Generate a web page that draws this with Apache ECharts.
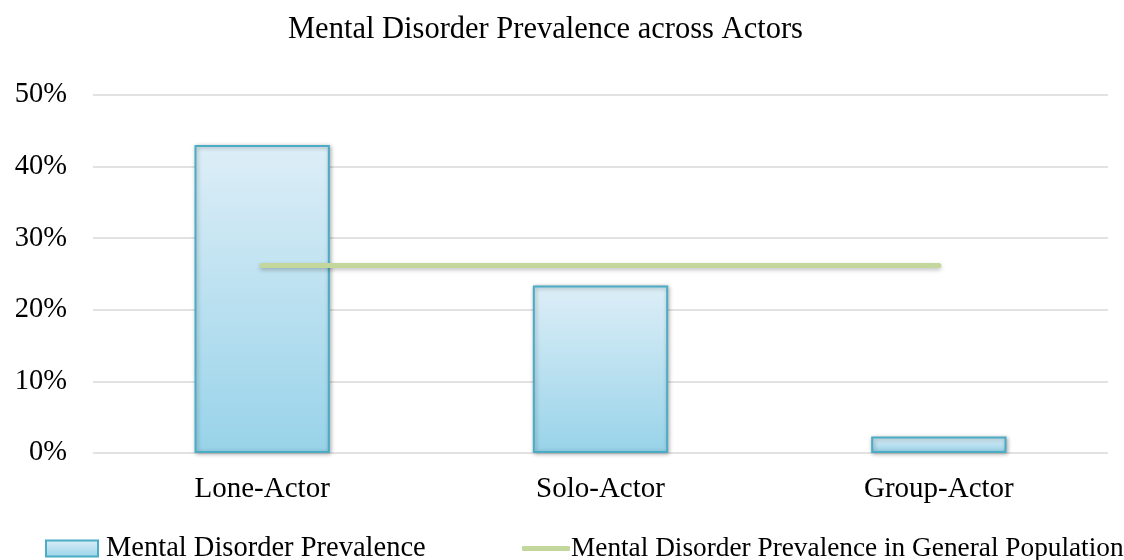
<!DOCTYPE html>
<html>
<head>
<meta charset="utf-8">
<script src="https://cdn.jsdelivr.net/npm/echarts@6/dist/echarts.min.js"></script>
<style>
  html, body { margin: 0; padding: 0; background: #ffffff; }
  #chart { width: 1124px; height: 560px; }
</style>
</head>
<body>
<div id="chart"></div>
<script>
// Actor groups along the x axis
const categories = ['Lone-Actor', 'Solo-Actor', 'Group-Actor'];
// Share of each actor group with a diagnosed mental disorder (%)
const prevalence = [43.0, 23.4, 2.3];
// Reference rate in the general population (%)
const generalPopulation = [26.2, 26.2, 26.2];
// Value axis range and step (%)
const yMin = 0, yMax = 50, yStep = 10;

const serif = '"Liberation Serif", "Times New Roman", Times, serif';
const barName = 'Mental Disorder Prevalence';
const lineName = 'Mental Disorder Prevalence in General Population';
const green = '#c3d69b';

const chart = echarts.init(document.getElementById('chart'), null, { renderer: 'canvas' });

chart.setOption({
  backgroundColor: '#ffffff',
  animation: false,
  title: {
    text: 'Mental Disorder Prevalence across Actors',
    left: 288,
    top: 14,
    padding: 0,
    textStyle: { fontFamily: serif, fontSize: 30.5, fontWeight: 'normal', color: '#000000' }
  },
  legend: [
    {
      data: [barName],
      left: 45,
      top: 534,
      padding: 0,
      itemWidth: 52,
      itemHeight: 16,
      icon: 'rect',
      textStyle: { fontFamily: serif, fontSize: 28.5, color: '#000000', padding: [0, 0, 0, 3] }
    },
    {
      data: [{ name: lineName, icon: 'roundRect' }],
      left: 522,
      top: 535,
      padding: 0,
      itemWidth: 48,
      itemHeight: 5,
      itemStyle: { color: green, borderWidth: 0 },
      textStyle: { fontFamily: serif, fontSize: 27.3, color: '#000000', padding: [0, 0, 0, -4] }
    }
  ],
  grid: { left: 93, right: 16, top: 95, bottom: 107, containLabel: false },
  xAxis: {
    type: 'category',
    data: categories,
    boundaryGap: true,
    axisLine: { show: false },
    axisTick: { show: false },
    axisLabel: { fontFamily: serif, fontSize: 29, color: '#000000', margin: 22 }
  },
  yAxis: {
    type: 'value',
    min: yMin,
    max: yMax,
    interval: yStep,
    axisLine: { show: false },
    axisTick: { show: false },
    axisLabel: {
      fontFamily: serif, fontSize: 28.5, color: '#000000', margin: 26,
      formatter: '{value}%'
    },
    splitLine: { lineStyle: { color: '#d9d9d9', width: 1.5 } }
  },
  series: [
    {
      name: barName,
      type: 'bar',
      data: prevalence,
      barWidth: '40%',
      itemStyle: {
        color: new echarts.graphic.LinearGradient(0, 0, 0, 1, [
          { offset: 0, color: '#ddeef7' },
          { offset: 1, color: '#98d3e9' }
        ]),
        borderColor: '#4bacc6',
        borderWidth: 2,
        shadowColor: 'rgba(0,0,0,0.3)',
        shadowBlur: 4,
        shadowOffsetX: 1,
        shadowOffsetY: 1
      },
      z: 2
    },
    {
      name: lineName,
      type: 'line',
      data: generalPopulation,
      symbol: 'none',
      showSymbol: false,
      lineStyle: {
        color: green,
        width: 5,
        cap: 'round',
        shadowColor: 'rgba(0,0,0,0.25)',
        shadowBlur: 4,
        shadowOffsetY: 2
      },
      itemStyle: { color: green },
      z: 3
    }
  ]
});
</script>
</body>
</html>
